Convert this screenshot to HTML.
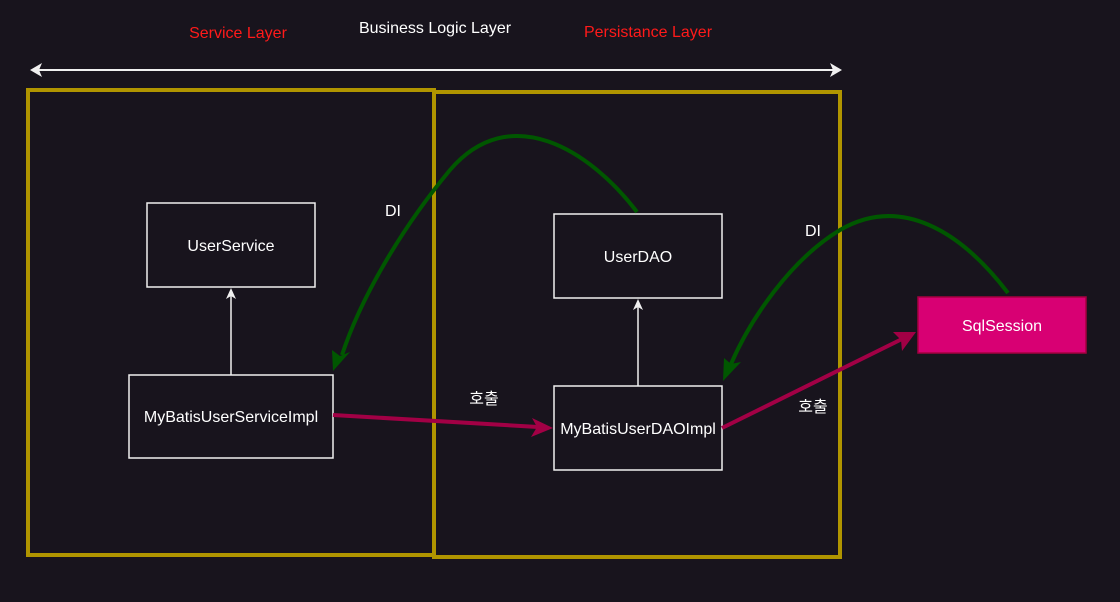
<!DOCTYPE html>
<html><head><meta charset="utf-8"><style>
html,body{margin:0;padding:0;background:#18141d;}
svg{display:block;}
text{font-family:"Liberation Sans","Noto Sans CJK KR",sans-serif;font-size:16px;}
</style></head><body>
<svg width="1120" height="602" viewBox="0 0 1120 602" xmlns="http://www.w3.org/2000/svg">
<rect width="1120" height="602" fill="#18141d"/>
<!-- layer boxes -->
<rect x="28" y="90" width="406" height="465" fill="none" stroke="#b09500" stroke-width="4"/>
<rect x="434" y="92" width="406" height="465" fill="none" stroke="#b09500" stroke-width="4"/>
<!-- double arrow -->
<line x1="36" y1="70" x2="834" y2="70" stroke="#f0f0f0" stroke-width="2"/>
<path d="M30,70 L42,63 L39,70 L42,77 Z" fill="#f0f0f0"/>
<path d="M842,70 L830,63 L833,70 L830,77 Z" fill="#f0f0f0"/>
<text x="238" y="38" fill="#ff1a1a" text-anchor="middle">Service Layer</text>
<text x="435" y="33" fill="#ffffff" text-anchor="middle">Business Logic Layer</text>
<text x="648" y="37" fill="#ff1a1a" text-anchor="middle">Persistance Layer</text>
<!-- nodes -->
<rect x="147" y="203" width="168" height="84" fill="#18141d" stroke="#f0f0f0" stroke-width="1.5"/>
<text x="231" y="251" fill="#fff" text-anchor="middle">UserService</text>
<rect x="129" y="375" width="204" height="83" fill="#18141d" stroke="#f0f0f0" stroke-width="1.5"/>
<text x="231" y="422" fill="#fff" text-anchor="middle">MyBatisUserServiceImpl</text>
<rect x="554" y="214" width="168" height="84" fill="#18141d" stroke="#f0f0f0" stroke-width="1.5"/>
<text x="638" y="262" fill="#fff" text-anchor="middle">UserDAO</text>
<rect x="554" y="386" width="168" height="84" fill="#18141d" stroke="#f0f0f0" stroke-width="1.5"/>
<text x="638" y="434" fill="#fff" text-anchor="middle">MyBatisUserDAOImpl</text>
<rect x="918" y="297" width="168" height="56" fill="#d80073" stroke="#a50040" stroke-width="1.5"/>
<text x="1002" y="331" fill="#fff" text-anchor="middle">SqlSession</text>
<!-- inheritance arrows -->
<line x1="231" y1="375" x2="231" y2="292" stroke="#f0f0f0" stroke-width="1.5"/>
<path d="M231,288 L226,299 L231,296 L236,299 Z" fill="#f0f0f0"/>
<line x1="638" y1="386" x2="638" y2="303" stroke="#f0f0f0" stroke-width="1.5"/>
<path d="M638,299 L633,310 L638,307 L643,310 Z" fill="#f0f0f0"/>
<!-- DI curves -->
<path d="M637,212 C590,150 510,100 450,170 C400,230 360,300 342,355" fill="none" stroke="#005700" stroke-width="4"/>
<path d="M333,371 L332,350 L340,356 L350,352 Z" fill="#005700"/>
<path d="M1008,293 C960,230 900,195 840,230 C790,260 750,320 731,364" fill="none" stroke="#005700" stroke-width="4"/>
<path d="M723,381 L724,358 L731,364 L741,362 Z" fill="#005700"/>
<!-- call arrows -->
<line x1="333" y1="415" x2="538" y2="427" stroke="#a20045" stroke-width="4"/>
<path d="M553,428 L532,418 L537,427 L531,437 Z" fill="#a20045"/>
<line x1="722" y1="428" x2="902" y2="339" stroke="#a20045" stroke-width="4"/>
<path d="M916,332 L893,332 L901,340 L902,351 Z" fill="#a20045"/>
<!-- labels -->
<text x="393" y="216" fill="#fff" text-anchor="middle">DI</text>
<text x="813" y="236" fill="#fff" text-anchor="middle">DI</text>
<text x="484" y="404" fill="#fff" text-anchor="middle">호출</text>
<text x="813" y="412" fill="#fff" text-anchor="middle">호출</text>
</svg>
</body></html>
